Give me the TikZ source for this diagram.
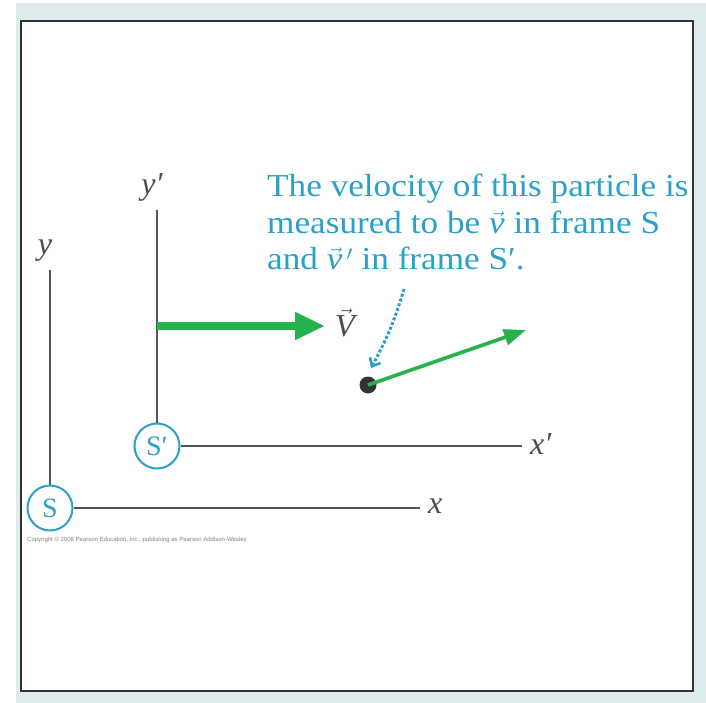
\documentclass[tikz,border=0pt]{standalone}
\usepackage{fontspec}
\setmainfont{Liberation Serif}
\newfontfamily\tinysans{Liberation Sans}
\newfontfamily\notefont[FakeStretch=1.10]{Liberation Serif}
\usepackage{tikz}
\usetikzlibrary{arrows.meta, positioning, calc}

\definecolor{pagebg}{RGB}{222,235,236}
\definecolor{noteblue}{RGB}{42,160,202}
\definecolor{velgreen}{RGB}{38,178,76}
\definecolor{axisgray}{RGB}{85,85,85}

\begin{document}
\begin{tikzpicture}[
    x=1pt, y=-1pt,
    every node/.style={inner sep=0pt},
    frame/.style={circle, draw=noteblue, line width=2pt, fill=white, minimum size=45pt,
                  text=noteblue, font=\fontsize{28}{28}\selectfont},
    axis/.style={draw=axisgray, line width=2.2pt},
    axlabel/.style={font=\fontsize{32}{32}\selectfont\itshape, text=black!70},
    boost/.style={-{Triangle[length=30pt, width=26pt]}, line width=8pt, draw=velgreen},
    vel/.style={-{Triangle[length=22pt, width=16pt]}, line width=3.6pt, draw=velgreen},
    pointer/.style={-{Straight Barb[length=7pt, width=12pt, line width=2.5pt]}, line width=3pt,
                    dotted, draw=noteblue},
    note/.style={align=left, text=noteblue, font=\notefont\fontsize{32}{36.5}\selectfont},
    dot/.style={circle, fill=black!80, minimum size=17pt}
]
% page and frame
\useasboundingbox (0,0) rectangle (706,703);
\fill[pagebg] (16,3) rectangle (706,703);
\draw[line width=2.5pt, draw=black!80, fill=white] (21,21) rectangle (693,691);

% frame S
\node[frame] (S) at (50,508) {S};
\coordinate (yend) at (50,270);
\coordinate (xend) at (420,508);
\draw[axis] (S) -- (yend);
\draw[axis] (S) -- (xend);
\node[axlabel, anchor=south] (ylab) at ($(yend)+(-5,-8)$) {y};
\node[axlabel, anchor=west] (xlab) at ($(xend)+(8,-2)$) {x};

% frame S'
\node[frame] (Sp) at (157,446) {S′};
\coordinate (ypend) at (157,210);
\coordinate (xpend) at (522,446);
\draw[axis] (Sp) -- (ypend);
\draw[axis] (Sp) -- (xpend);
\node[axlabel, anchor=south] (yplab) at ($(ypend)+(-5,-8)$) {y′};
\node[axlabel, anchor=west] (xplab) at ($(xpend)+(8,-2)$) {x′};

% relative velocity of S'
\coordinate (Vstart) at (157,326);
\coordinate (Vtip) at (325,326);
\draw[boost] (Vstart) -- (Vtip);
\node[axlabel, font=\fontsize{32}{32}\selectfont, anchor=west] (Vlab) at ($(Vtip)+(10,-3)$) {$\vec{\textit{V}}$};

% particle
\node[dot] (pt) at (368,385) {};
\coordinate (vtip) at (526,330);
\draw[vel] (pt.center) -- (vtip);

% note
\node[note, anchor=north west] (note) at (267,174)
    {The velocity of this particle is\\
     measured to be $\vec{\textit{v}}$ in frame S\\
     and $\vec{\textit{v}}\,'$ in frame S′.};
\coordinate (ptr) at (404,289);
\draw[pointer] (ptr) to[bend left=6] ($(pt)+(3,-17)$);

\node[anchor=west, text=gray, font=\tinysans\fontsize{6}{6}\selectfont] (copy) at (27,540)
    {Copyright © 2008 Pearson Education, Inc., publishing as Pearson Addison-Wesley.};
\end{tikzpicture}
\end{document}
